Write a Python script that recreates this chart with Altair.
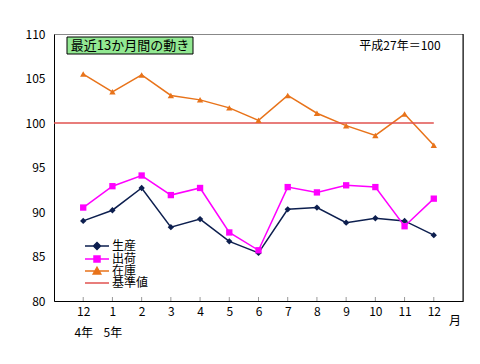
import altair as alt
import pandas as pd

# ---- data ----
months = ["12", "1", "2", "3", "4", "5", "6", "7", "8", "9", "10", "11", "12"]
years = ["4年", "5年", "", "", "", "", "", "", "", "", "", "", ""]
production = [89.0, 90.2, 92.7, 88.3, 89.2, 86.7, 85.4, 90.3, 90.5, 88.8, 89.3, 89.0, 87.4]
shipments = [90.5, 92.9, 94.1, 91.9, 92.7, 87.7, 85.7, 92.8, 92.2, 93.0, 92.8, 88.4, 91.5]
inventory = [105.5, 103.5, 105.4, 103.1, 102.6, 101.7, 100.3, 103.1, 101.1, 99.7, 98.6, 101.0, 97.5]
baseline = 100
baseline_span = [-1, 12]
series_names = ["生産", "出荷", "在庫", "基準値"]
series_colors = ["#0D1F4F", "#FF00FF", "#E8731A", "#E0524F"]
series_shapes = ["diamond", "square", "triangle-up"]
legend_shapes = [
    "M-3.6,0H1.2M-1.2,-0.7L-0.5,0L-1.2,0.7L-1.9,0Z",
    "M-3.6,0H1.2M-1.8,-0.6H-0.6V0.6H-1.8Z",
    "M-3.6,0H1.2M-1.2,-0.75L-0.45,0.6L-1.95,0.6Z",
    "M-3.6,0H1.2",
]
y_ticks = [80, 85, 90, 95, 100, 105, 110]
title_text = "最近13か月間の動き"
note_text = "平成27年＝100"
unit_text = "月"

FONT = "Noto Sans CJK JP"
W, H = 409, 267

rows = []
for name, vals in zip(series_names[:3], [production, shipments, inventory]):
    for i, v in enumerate(vals):
        rows.append({"idx": i, "value": v, "series": name})
df = pd.DataFrame(rows)
idx_df = pd.DataFrame({"idx": list(range(len(months)))})

js_months = "[" + ",".join("'%s'" % m for m in months) + "]"
js_years = "[" + ",".join("'%s'" % y for y in years) + "]"
label_expr = "[%s[datum.value], %s[datum.value]]" % (js_months, js_years)

x_scale = alt.Scale(domain=[-1, len(months)], nice=False, zero=False)
y_scale = alt.Scale(domain=[80, 110], nice=False, zero=False)

x_axis = alt.Axis(
    values=list(range(len(months))), labelExpr=label_expr, title=None, grid=False,
    ticks=False, domainColor="#000000", labelFont=FONT, labelFontSize=12,
    labelColor="#000000", labelPadding=5, labelBaseline="top", labelLineHeight=21,
    labelFlush=False, labelOverlap=False)
y_axis = alt.Axis(
    values=y_ticks, title=None, grid=False, ticks=False, domainColor="#000000",
    labelFont=FONT, labelFontSize=12, labelColor="#000000", labelPadding=9)


def series_color(legend=None):
    return alt.Color("series:N", scale=alt.Scale(domain=series_names, range=series_colors),
                     sort=series_names, legend=legend)


lines = alt.Chart(df).mark_line(strokeWidth=1.5).encode(
    x=alt.X("idx:Q", scale=x_scale, axis=x_axis),
    y=alt.Y("value:Q", scale=y_scale, axis=y_axis),
    color=series_color())

base_rule = alt.Chart(pd.DataFrame({"v": [baseline], "x0": [baseline_span[0]], "x1": [baseline_span[1]]})).mark_rule(
    color=series_colors[3], strokeWidth=1.5).encode(
    y=alt.Y("v:Q", scale=y_scale, axis=y_axis), x=alt.X("x0:Q", scale=x_scale, axis=x_axis), x2="x1:Q")

points = alt.Chart(df).mark_point(filled=True, opacity=1, size=40).encode(
    x=alt.X("idx:Q", scale=x_scale, axis=x_axis),
    y=alt.Y("value:Q", scale=y_scale, axis=y_axis),
    color=series_color(),
    shape=alt.Shape("series:N", scale=alt.Scale(domain=series_names[:3], range=series_shapes), legend=None))

legend = alt.Legend(
    orient="none", legendX=43, legendY=206, title=None, padding=0,
    symbolSize=100, symbolStrokeWidth=1.5, labelFont=FONT, labelFontSize=12,
    labelColor="#000000", labelOffset=3, rowPadding=-1.3, symbolOpacity=1)
legend_layer = alt.Chart(pd.DataFrame({"lseries": series_names})).transform_filter(
    "datum.lseries == 'none'").mark_point(filled=True, opacity=1, size=100, strokeWidth=1.5).encode(
    x=alt.value(0), y=alt.value(0),
    color=alt.Color("lseries:N", scale=alt.Scale(domain=series_names, range=series_colors),
                    sort=series_names, legend=legend),
    stroke=alt.Stroke("lseries:N", scale=alt.Scale(domain=series_names, range=series_colors),
                      sort=series_names, legend=legend),
    shape=alt.Shape("lseries:N", scale=alt.Scale(domain=series_names, range=legend_shapes),
                    sort=series_names, legend=legend),
)

ticks = alt.Chart(idx_df).mark_rule(color="#999999", strokeWidth=1).encode(
    x=alt.X("idx:Q", scale=x_scale, axis=x_axis), y=alt.value(H), y2=alt.value(H - 4))

right_border = alt.Chart(pd.DataFrame({"a": [0]})).mark_rule(color="#000000", strokeWidth=1).encode(
    x=alt.value(W), y=alt.value(0), y2=alt.value(H))

box = alt.Chart(pd.DataFrame({"t": [title_text]})).mark_rect(
    fill="#92E892", stroke="#000000", strokeWidth=1).encode(
    x=alt.value(13), x2=alt.value(139), y=alt.value(3), y2=alt.value(20))
box_text = alt.Chart(pd.DataFrame({"t": [title_text]})).mark_text(
    font=FONT, fontSize=13, color="#000000", align="center", baseline="middle").encode(
    text="t:N", x=alt.value(76), y=alt.value(12))
note = alt.Chart(pd.DataFrame({"t": [note_text]})).mark_text(
    font=FONT, fontSize=12, color="#000000", align="center", baseline="middle").encode(
    text="t:N", x=alt.value(346), y=alt.value(12))
unit = alt.Chart(pd.DataFrame({"t": [unit_text]})).mark_text(
    font=FONT, fontSize=12, color="#000000", align="center", baseline="middle").encode(
    text="t:N", x=alt.value(401), y=alt.value(287))

chart = alt.layer(lines, base_rule, points, legend_layer, ticks, right_border, box, box_text, note, unit).resolve_scale(
    color="independent", shape="independent", stroke="independent"
).properties(
    width=W, height=H,
    autosize=alt.AutoSizeParams(type="none"),
    padding={"left": 46, "top": 26, "right": 9, "bottom": 55},
    background="#ffffff",
).configure_view(stroke="#888888", strokeWidth=1)

chart.save("out.html", embed_options={"renderer": "svg", "actions": False})
